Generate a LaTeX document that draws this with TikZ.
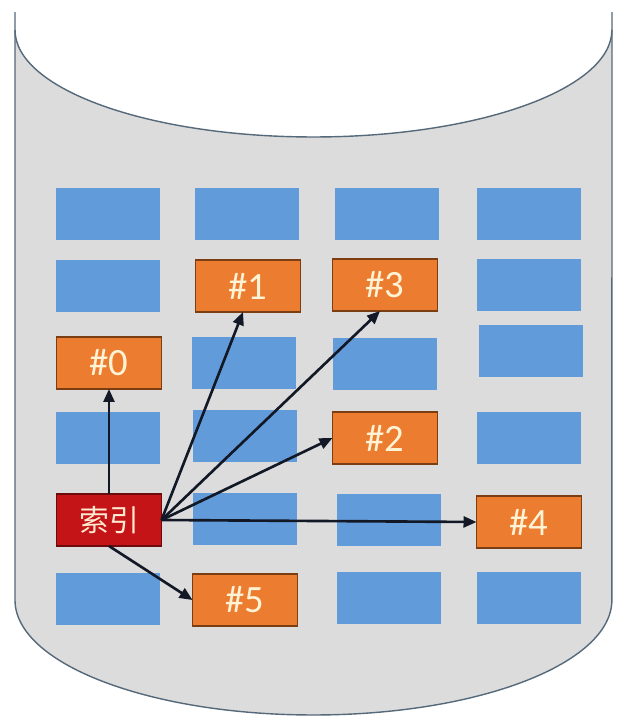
\documentclass[tikz,border=0pt]{standalone}
\usepackage{fontspec}
\setmainfont{Carlito}
\newfontfamily\cjk{Noto Sans CJK SC}
\usepackage{xcolor}
\definecolor{tankgray}{HTML}{DCDCDC}
\definecolor{tankedge}{HTML}{56697A}
\definecolor{cellblue}{HTML}{629BD9}
\definecolor{hitorange}{HTML}{EC7C30}
\definecolor{hitedge}{HTML}{7A3E12}
\definecolor{idxred}{HTML}{C41418}
\definecolor{labelcream}{HTML}{FFF3D6}
\definecolor{pointer}{HTML}{121826}
\usetikzlibrary{arrows.meta}

\begin{document}
\begin{tikzpicture}[
  x=0.02cm, y=-0.02cm,
  cell/.style={fill=cellblue, minimum width=2.1cm, minimum height=1.04cm,
               inner sep=0pt, outer sep=0pt},
  hit/.style={cell, fill=hitorange, draw=hitedge, line width=0.6pt,
              text=labelcream, font=\fontsize{22}{26}\selectfont},
  idx/.style={hit, fill=idxred, draw=idxred!55!black, text=labelcream!80!pink,
              font=\cjk\fontsize{17}{20}\selectfont},
  arr/.style={-{Triangle[length=2.6mm,width=2.2mm]}, line width=1.5pt, draw=pointer}
]
\fill[white] (0,0) rectangle (626,717);
\useasboundingbox (0,0) rectangle (626,717);
% tank
\fill[tankgray] (15,12) -- (15,600)
  arc[start angle=180, end angle=360, x radius=5.97cm, y radius=2.3cm] -- (612,12) -- cycle;
\fill[white] (15,0) -- (15,30)
  arc[start angle=180, end angle=360, x radius=5.97cm, y radius=2.14cm] -- (612,0) -- cycle;
\draw[tankedge, line width=0.8pt] (15,12) -- (15,600)
  arc[start angle=180, end angle=360, x radius=5.97cm, y radius=2.3cm] -- (612,12);
\draw[tankedge, line width=0.8pt] (15,30)
  arc[start angle=180, end angle=360, x radius=5.97cm, y radius=2.14cm];
% rows of records
\node[cell] (b11) at (108,214) {};
\node[cell] (b12) at (247,214) {};
\node[cell] (b13) at (387,214) {};
\node[cell] (b14) at (529,214) {};
\node[cell] (b21) at (108,286) {};
\node[hit]  (n1)  at (248,286) {\#1};
\node[hit]  (n3)  at (385,285) {\#3};
\node[cell] (b24) at (529,285) {};
\node[hit]  (n0)  at (109,363) {\#0};
\node[cell] (b32) at (244,363) {};
\node[cell] (b33) at (385,364) {};
\node[cell] (b34) at (531,351) {};
\node[cell] (b41) at (108,438) {};
\node[cell] (b42) at (245,436) {};
\node[hit]  (n2)  at (385,438) {\#2};
\node[cell] (b44) at (529,438) {};
\node[idx]  (idx) at (109,520) {索引};
\node[cell] (b52) at (245,519) {};
\node[cell] (b53) at (389,520) {};
\node[hit]  (n4)  at (529,522) {\#4};
\node[cell] (b61) at (108,599) {};
\node[hit]  (n5)  at (245,600) {\#5};
\node[cell] (b63) at (389,598) {};
\node[cell] (b64) at (529,598) {};
% pointers from the index
\draw[arr] (idx.north) -- (n0.south);
\draw[arr] (idx.east) -- ([xshift=-0.1cm]n1.south);
\draw[arr] (idx.east) -- ([xshift=-0.1cm]n3.south);
\draw[arr] (idx.east) -- (n2.west);
\draw[arr] (idx.east) -- (n4.west);
\draw[arr] (idx.south) -- (n5.west);
\end{tikzpicture}
\end{document}
